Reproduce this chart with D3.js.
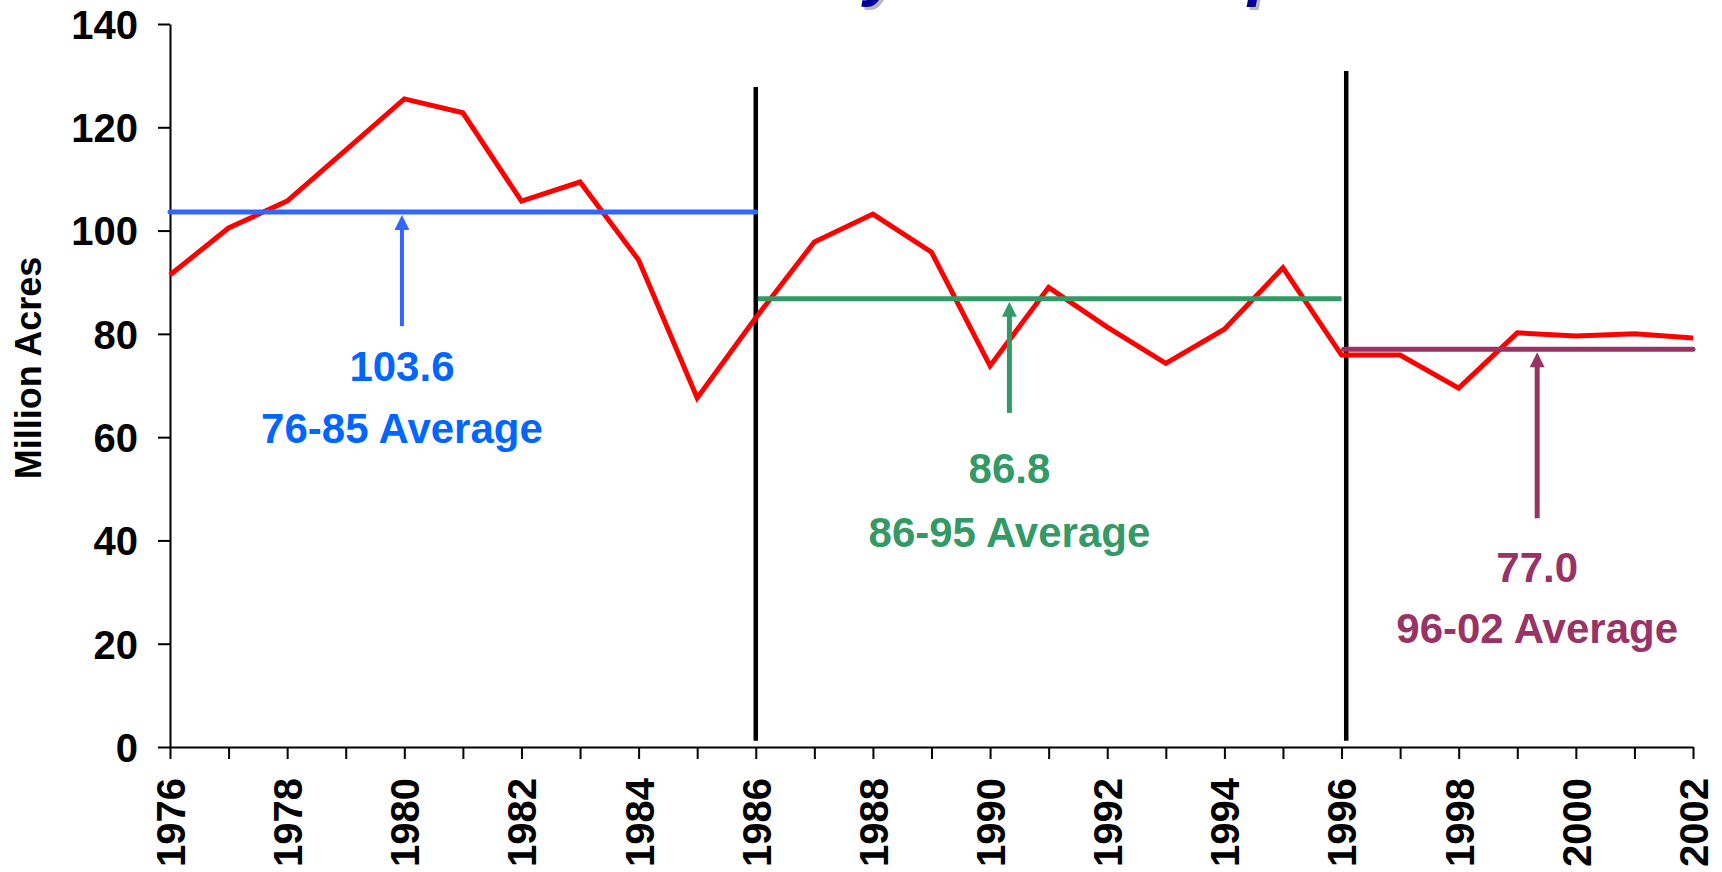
<!DOCTYPE html>
<html>
<head>
<meta charset="utf-8">
<script src="https://cdn.jsdelivr.net/npm/d3@7"></script>
<style>
    html, body { margin: 0; padding: 0; background: #fff; }
    svg { display: block; }
    text { font-family: 'Liberation Sans', Arial, sans-serif; font-weight: bold; }
    .axis path, .axis line { stroke: #000; stroke-width: 2; }
    .axis text { font-size: 40px; fill: #000; }
</style>
</head>
<body>
<div id="chart"></div>
<script>
// ============================================================
// Data
// ============================================================
const years = d3.range(1976, 2003);
const acres = [
    91.4, 100.5, 105.7, 115.6, 125.5, 122.8, 105.7, 109.4, 94.3, 67.6,
    83.1, 97.8, 103.2, 95.8, 73.8, 89.0, 81.3, 74.3, 80.9, 92.8,
    75.9, 75.9, 69.5, 80.2, 79.6, 80.0, 79.2
];
const yTicks = [0, 20, 40, 60, 80, 100, 120, 140];
const xLabelYears = years.filter(y => y % 2 === 0);

const periodLabels = ['76-85 Average', '86-95 Average', '96-02 Average'];
const periodStart = [1976, 1986, 1996];
const periodEnd = [1986, 1996, 2002];
const periodAverage = [103.6, 86.8, 77.0];

const dividerYears = [1986, 1996.08];
const dividerTop = [127.8, 130.9];

const titleText = 'Planted Acres by Time Group';
const yLabel = 'Million Acres';

// ============================================================
// Layout / styles
// ============================================================
const W = 1722, H = 872;
const COLORS = {
    series: '#ff0000',
    line: ['#3366ff', '#339966', '#993366'],
    text: ['#0066ff', '#339966', '#993366'],
    title: '#000099',
    shadow: '#b8b8b8'
};
// arrow / label placement per period (in data units)
const ANNOT = [
    { x: 1979.96, base: 81.5, valueY: 70.9, labelY: 58.9 },
    { x: 1990.33, base: 64.7, valueY: 51.1, labelY: 38.7 },
    { x: 1999.34, base: 44.3, valueY: 32.0, labelY: 20.1 }
];

const svg = d3.select('#chart').append('svg')
    .attr('width', W)
    .attr('height', H);

const x = d3.scaleLinear().domain([1976, 2002]).range([170, 1693]);
const y = d3.scaleLinear().domain([0, 140]).range([747, 24]);

// ============================================================
// Title (sits above the top edge, only descenders show)
// ============================================================
[[COLORS.shadow, 3], [COLORS.title, 0]].forEach(([fill, off]) => {
    const t = svg.append('text')
        .attr('y', -7 + off)
        .style('font-size', '66px')
        .style('font-style', 'italic')
        .attr('fill', fill)
        .text(titleText);
    const pre = t.node().getSubStringLength(0, titleText.indexOf('y'));
    t.attr('x', 864 - pre + off);
});

// ============================================================
// Axes
// ============================================================
const yAxis = svg.append('g')
    .attr('class', 'axis')
    .attr('transform', `translate(${x(1976)},0)`)
    .call(d3.axisLeft(y).tickValues(yTicks).tickSize(12).tickSizeOuter(0).tickPadding(20));
yAxis.selectAll('text').attr('dy', '0.36em');

const xAxis = svg.append('g')
    .attr('class', 'axis')
    .attr('transform', `translate(0,${y(0)})`)
    .call(d3.axisBottom(x)
        .tickValues(years)
        .tickSize(12)
        .tickSizeOuter(0)
        .tickFormat(d => xLabelYears.includes(d) ? d : ''));
xAxis.selectAll('text')
    .attr('transform', 'rotate(-90)')
    .attr('y', 0)
    .attr('x', -31)
    .attr('dy', '0.36em')
    .style('text-anchor', 'end');

svg.append('text')
    .attr('transform', `translate(41,368) rotate(-90)`)
    .attr('text-anchor', 'middle')
    .style('font-size', '36px')
    .text(yLabel);

// ============================================================
// Period dividers
// ============================================================
svg.selectAll('.divider')
    .data(dividerYears)
    .enter().append('line')
    .attr('class', 'divider')
    .attr('x1', d => x(d)).attr('x2', d => x(d))
    .attr('y1', (d, i) => y(dividerTop[i]))
    .attr('y2', y(1.2))
    .attr('stroke', '#000')
    .attr('stroke-width', 4.5);

// ============================================================
// Series line
// ============================================================
const line = d3.line()
    .x((d, i) => x(years[i]))
    .y(d => y(d));

svg.append('path')
    .datum(acres)
    .attr('fill', 'none')
    .attr('stroke', COLORS.series)
    .attr('stroke-width', 5)
    .attr('d', line);

// ============================================================
// Averages, arrows and labels
// ============================================================
periodLabels.forEach((label, i) => {
    const g = svg.append('g');
    g.append('line')
        .attr('x1', x(periodStart[i]) + (i === 0 ? 0 : 2))
        .attr('x2', x(periodEnd[i]))
        .attr('y1', y(periodAverage[i]))
        .attr('y2', y(periodAverage[i]))
        .attr('stroke', COLORS.line[i])
        .attr('stroke-width', 5)
        .attr('stroke-linecap', i === 1 ? 'butt' : 'round');

    const ax = x(ANNOT[i].x);
    const tip = y(periodAverage[i]) + 3;
    g.append('line')
        .attr('x1', ax).attr('x2', ax)
        .attr('y1', y(ANNOT[i].base))
        .attr('y2', tip + 12)
        .attr('stroke', COLORS.line[i])
        .attr('stroke-width', i === 0 ? 4 : 5);
    g.append('path')
        .attr('d', `M${ax},${tip} L${ax - 7.5},${tip + 15} L${ax + 7.5},${tip + 15} Z`)
        .attr('fill', COLORS.line[i]);

    g.append('text')
        .attr('x', ax)
        .attr('y', y(ANNOT[i].valueY))
        .attr('text-anchor', 'middle')
        .attr('fill', COLORS.text[i])
        .style('font-size', '42px')
        .text(periodAverage[i].toFixed(1));
    g.append('text')
        .attr('x', ax)
        .attr('y', y(ANNOT[i].labelY))
        .attr('text-anchor', 'middle')
        .attr('fill', COLORS.text[i])
        .style('font-size', '42px')
        .text(label);
});
</script>
</body>
</html>
